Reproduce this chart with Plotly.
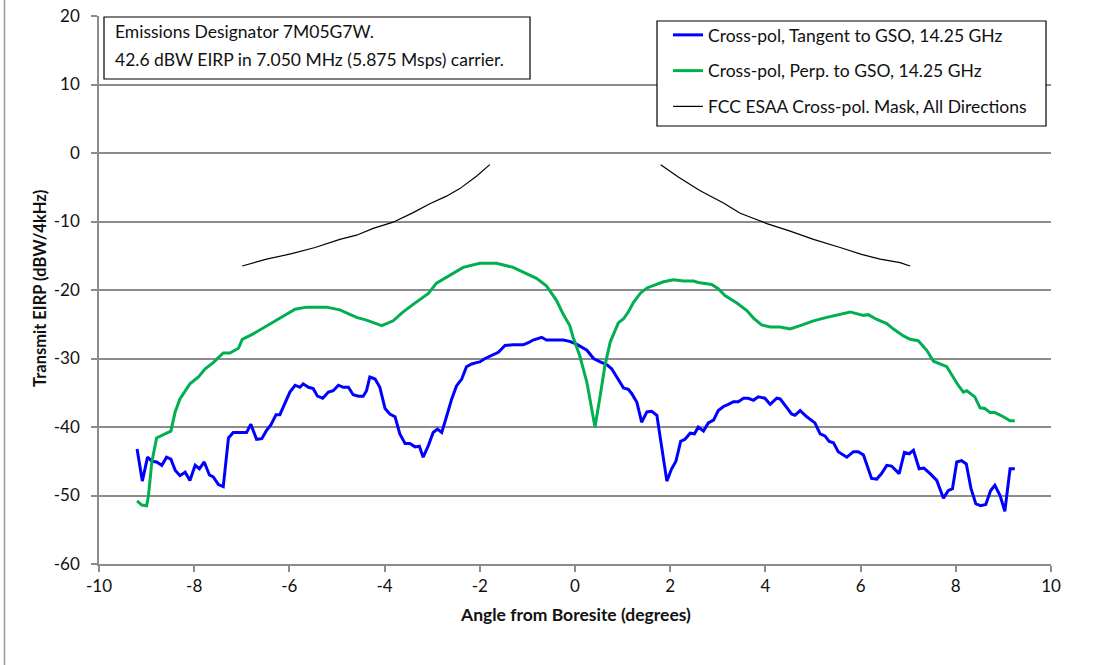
import plotly.graph_objects as go

# ---- data ----
tangent_x = [-9.20, -9.09, -8.98, -8.89, -8.79, -8.68, -8.58, -8.49, -8.40, -8.30,
             -8.19, -8.09, -7.98, -7.89, -7.79, -7.68, -7.60, -7.49, -7.39, -7.28,
             -7.18, -6.90, -6.81, -6.69, -6.58, -6.48, -6.39, -6.28, -6.20, -6.09,
             -5.99, -5.88, -5.78, -5.71, -5.60, -5.50, -5.41, -5.30, -5.18, -5.08,
             -4.97, -4.87, -4.76, -4.66, -4.55, -4.45, -4.38, -4.31, -4.20, -4.10,
             -3.99, -3.89, -3.78, -3.68, -3.57, -3.47, -3.36, -3.27, -3.19, -3.08,
             -2.98, -2.89, -2.80, -2.70, -2.59, -2.49, -2.38, -2.28, -2.17, -2.07,
             -2.00, -1.89, -1.72, -1.61, -1.47, -1.30, -1.09, -0.98, -0.88, -0.70,
             -0.60, -0.25, -0.11, 0.03, 0.25, 0.39, 0.53, 0.67, 0.77, 0.88,
             1.02, 1.12, 1.19, 1.30, 1.40, 1.51, 1.61, 1.72, 1.82, 1.93,
             2.03, 2.12, 2.22, 2.31, 2.42, 2.51, 2.59, 2.70, 2.80, 2.91,
             3.01, 3.12, 3.22, 3.33, 3.43, 3.54, 3.64, 3.75, 3.85, 3.99,
             4.10, 4.24, 4.31, 4.45, 4.55, 4.62, 4.73, 4.87, 5.04, 5.15,
             5.25, 5.34, 5.43, 5.53, 5.71, 5.85, 5.95, 6.06, 6.23, 6.34,
             6.44, 6.55, 6.65, 6.81, 6.92, 7.02, 7.11, 7.23, 7.33, 7.46,
             7.60, 7.74, 7.84, 7.93, 8.02, 8.12, 8.22, 8.32, 8.42, 8.52,
             8.63, 8.73, 8.82, 8.93, 9.03, 9.14, 9.24]
tangent_y = [-43.2, -47.9, -44.4, -45.0, -45.1, -45.6, -44.4, -44.7, -46.3, -47.1,
             -46.6, -47.8, -45.6, -46.1, -45.1, -47.0, -47.3, -48.4, -48.7, -41.6,
             -40.8, -40.8, -39.6, -41.8, -41.7, -40.5, -39.7, -38.2, -38.2, -36.6,
             -34.9, -33.9, -34.2, -33.7, -34.2, -34.4, -35.5, -35.8, -34.9, -34.7,
             -33.9, -34.2, -34.2, -35.3, -35.5, -35.5, -34.7, -32.7, -33.0, -34.2,
             -37.3, -38.1, -38.5, -41.0, -42.4, -42.4, -42.9, -42.8, -44.4, -42.7,
             -40.8, -40.3, -40.8, -38.5, -35.9, -34.0, -33.0, -31.2, -30.8, -30.6,
             -30.5, -30.0, -29.4, -29.1, -28.1, -28.0, -28.0, -27.7, -27.3, -26.9,
             -27.3, -27.3, -27.5, -27.9, -28.8, -30.0, -30.5, -30.9, -31.5, -32.7,
             -34.3, -34.5, -35.1, -36.4, -39.3, -37.8, -37.7, -38.3, -43.2, -47.9,
             -46.1, -45.0, -42.1, -41.8, -40.9, -41.0, -40.0, -40.6, -39.4, -39.0,
             -37.6, -37.0, -36.7, -36.3, -36.3, -35.8, -35.8, -36.1, -35.6, -35.8,
             -36.7, -35.8, -35.9, -37.2, -38.1, -38.3, -37.6, -38.5, -39.4, -41.0,
             -41.3, -42.1, -42.3, -43.6, -44.4, -43.6, -43.6, -44.1, -47.5, -47.6,
             -46.8, -45.6, -45.7, -46.8, -43.7, -43.9, -43.4, -46.1, -46.0, -46.8,
             -47.8, -50.4, -49.3, -49.0, -45.1, -44.9, -45.4, -49.0, -51.2, -51.5,
             -51.3, -49.3, -48.5, -50.0, -52.3, -46.1, -46.1]

perp_x = [-9.20, -9.10, -9.00, -8.96, -8.89, -8.79, -8.58, -8.49, -8.40, -8.30,
          -8.09, -7.91, -7.77, -7.60, -7.39, -7.25, -7.07, -6.99, -6.76, -6.41,
          -6.16, -5.88, -5.64, -5.22, -4.94, -4.59, -4.38, -4.06, -3.82, -3.61,
          -3.40, -3.08, -2.91, -2.63, -2.35, -2.00, -1.65, -1.30, -1.09, -0.81,
          -0.60, -0.39, -0.25, -0.11, -0.04, 0.10, 0.25, 0.42, 0.53, 0.63,
          0.74, 0.91, 1.02, 1.12, 1.23, 1.37, 1.51, 1.65, 1.86, 2.07,
          2.28, 2.49, 2.59, 2.87, 3.01, 3.15, 3.40, 3.61, 3.75, 3.92,
          4.10, 4.31, 4.52, 4.73, 5.01, 5.29, 5.50, 5.78, 6.06, 6.16,
          6.34, 6.55, 6.69, 6.90, 7.04, 7.21, 7.39, 7.53, 7.81, 8.05,
          8.16, 8.23, 8.40, 8.51, 8.61, 8.72, 8.82, 9.00, 9.14, 9.24]
perp_y = [-50.8, -51.4, -51.5, -50.0, -45.1, -41.6, -40.9, -40.6, -37.8, -35.9,
          -33.7, -32.7, -31.5, -30.6, -29.2, -29.2, -28.5, -27.2, -26.4, -25.0,
          -24.0, -22.8, -22.5, -22.5, -22.9, -24.0, -24.4, -25.2, -24.5, -23.2,
          -22.1, -20.5, -19.0, -17.9, -16.7, -16.1, -16.1, -16.7, -17.4, -18.3,
          -19.4, -21.5, -23.5, -25.2, -26.9, -29.6, -33.5, -40.0, -35.4, -31.0,
          -27.6, -24.8, -24.2, -23.2, -21.8, -20.5, -19.7, -19.3, -18.8, -18.5,
          -18.7, -18.7, -18.9, -19.2, -19.8, -20.8, -21.9, -23.0, -24.1, -25.1,
          -25.4, -25.4, -25.7, -25.2, -24.5, -24.0, -23.7, -23.2, -23.7, -23.6,
          -24.3, -24.9, -25.7, -26.7, -27.2, -27.4, -28.8, -30.4, -31.2, -33.9,
          -34.9, -34.7, -35.6, -37.2, -37.3, -37.9, -37.9, -38.5, -39.1, -39.1]

# mask: left branch, gap (None), right branch
mask_x = [-6.99, -6.48, -5.95, -5.46, -4.94, -4.59, -4.24, -3.82, -3.40, -3.05,
          -2.70, -2.42, -2.07, -1.79, None,
          1.80, 2.17, 2.63, 3.12, 3.47, 4.03, 4.52, 5.01, 5.57, 6.02,
          6.41, 6.83, 7.04]
mask_y = [-16.5, -15.5, -14.7, -13.8, -12.6, -12.0, -11.0, -10.1, -8.7, -7.4,
          -6.3, -5.2, -3.4, -1.7, None,
          -1.7, -3.5, -5.5, -7.3, -8.8, -10.3, -11.4, -12.6, -13.8, -14.8,
          -15.5, -16.0, -16.5]

x_ticks = [-10, -8, -6, -4, -2, 0, 2, 4, 6, 8, 10]
y_ticks = [20, 10, 0, -10, -20, -30, -40, -50, -60]

names = ["Cross-pol, Tangent to GSO, 14.25 GHz",
         "Cross-pol, Perp. to GSO, 14.25 GHz",
         "FCC ESAA Cross-pol. Mask, All Directions"]
info_lines = ["Emissions Designator 7M05G7W.",
              "42.6 dBW EIRP in 7.050 MHz (5.875 Msps) carrier."]
x_title = "Angle from Boresite (degrees)"
y_title = "Transmit EIRP (dBW/4kHz)"

FONT = "Lato, 'Open Sans', sans-serif"
GRID = "#8c8c8c"
TXT = "#111111"

fig = go.Figure()
fig.add_trace(go.Scatter(x=tangent_x, y=tangent_y, mode="lines", name=names[0],
                         legendgroup="a", line=dict(color="#0000ff", width=3)))
fig.add_trace(go.Scatter(x=perp_x, y=perp_y, mode="lines", name=names[1],
                         legendgroup="b", line=dict(color="#00b050", width=3)))
fig.add_trace(go.Scatter(x=mask_x, y=mask_y, mode="lines", name=names[2],
                         legendgroup="c", connectgaps=False,
                         line=dict(color="#000000", width=1.2)))

W, H = 1107, 665
L, R, T, B = 99, 56, 16, 101
pw, ph = W - L - R, H - T - B


def px(xp):
    return (xp - L) / pw


def py(yp):
    return (H - B - yp) / ph


fig.update_layout(
    width=W, height=H, autosize=False,
    margin=dict(l=L, r=R, t=T, b=B, pad=0, autoexpand=False),
    paper_bgcolor="white", plot_bgcolor="white",
    font=dict(family=FONT, size=17, color=TXT),
    showlegend=True,
    legend=dict(x=px(668), y=py(17), xanchor="left", yanchor="top",
                borderwidth=0, bgcolor="rgba(255,255,255,0)",
                font=dict(family=FONT, size=17.5, color=TXT),
                traceorder="grouped", tracegroupgap=10,
                itemwidth=30),
    xaxis=dict(range=[-10, 10], tickvals=x_ticks, ticktext=[str(v) for v in x_ticks],
               automargin=False,
               showgrid=False, zeroline=False, showline=True, linecolor=GRID,
               linewidth=1.5, ticks="outside", ticklen=6, tickcolor=GRID,
               tickwidth=1.5, tickfont=dict(size=17, family=FONT, color=TXT)),
    yaxis=dict(range=[-60, 20], tickvals=y_ticks, ticktext=[str(v) for v in y_ticks],
               automargin=False,
               showgrid=True, gridcolor=GRID, gridwidth=1.5, zeroline=False,
               showline=True, linecolor=GRID, linewidth=1.5, ticks="outside",
               ticklen=6, tickcolor=GRID, tickwidth=1.5, ticklabelstandoff=8,
               tickfont=dict(size=17, family=FONT, color=TXT)),
)

# legend frame
fig.add_shape(type="rect", xref="paper", yref="paper",
              x0=px(657), x1=px(1046), y0=py(126), y1=py(21),
              line=dict(color="#000000", width=1.2), fillcolor="white", layer="above")

# info box
fig.add_shape(type="rect", xref="paper", yref="paper",
              x0=px(104), x1=px(530), y0=py(79), y1=py(17),
              line=dict(color="#000000", width=1.2), fillcolor="white", layer="above")
for txt, yy in zip(info_lines, [32, 59]):
    fig.add_annotation(xref="paper", yref="paper", x=px(113), y=py(yy),
                       xanchor="left", yanchor="middle", showarrow=False,
                       text=txt, font=dict(family=FONT, size=17.5, color=TXT))

# axis titles
fig.add_annotation(xref="paper", yref="paper", x=px(575), y=py(614),
                   xanchor="center", yanchor="middle", showarrow=False,
                   text="<b>" + x_title + "</b>",
                   font=dict(family=FONT, size=17.5, color=TXT))
fig.add_annotation(xref="paper", yref="paper", x=px(40), y=py(289),
                   xanchor="center", yanchor="middle", showarrow=False,
                   textangle=-90, text="<b>" + y_title + "</b>",
                   font=dict(family=FONT, size=16.5, color=TXT))

# outer chart border on the left edge
fig.add_shape(type="line", xref="paper", yref="paper",
              x0=px(4.5), x1=px(4.5), y0=py(H + 5), y1=py(-5),
              line=dict(color="#9a9a9a", width=1.5))

fig.write_html("out.html",
               config={"displayModeBar": False},
               post_script="document.body.style.margin='0';"
                           "document.body.style.overflow='hidden';")
